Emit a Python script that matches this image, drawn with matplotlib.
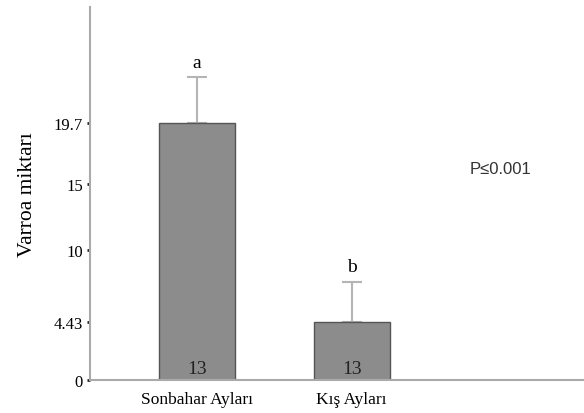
import numpy as np
import matplotlib.pyplot as plt

plt.rcParams["font.family"] = "Liberation Serif"

groups = ["Sonbahar Ayları", "Kış Ayları"]
means = [19.7, 4.43]
errors = [3.5, 3.1]
n_labels = ["13", "13"]
letters = ["a", "b"]
tick_vals = [0, 4.43, 10, 15, 19.7]
tick_labels = ["0", "4.43", "10", "15", "19.7"]

fig = plt.figure(figsize=(5.84, 4.14), dpi=100)
ax = fig.add_axes([90 / 584, 1 - 381 / 414, 494 / 584, 373 / 414])

x = np.arange(len(groups))
ax.bar(x, means, width=0.49, color="#8c8c8c", edgecolor="#555555", linewidth=1.0, zorder=2)
ax.errorbar(x, means, yerr=[np.zeros(len(errors)), errors], fmt="none",
            ecolor="#b5b5b5", elinewidth=1.5, capsize=7, capthick=1.5, zorder=1)

for xi, m, e, lt, n in zip(x, means, errors, letters, n_labels):
    ax.text(xi, m + e + 1.15, lt, ha="center", va="center", fontsize=14)
    ax.text(xi, 0.25, n, ha="center", va="bottom", fontsize=14, color="#222222")

ax.text(1.76, 16.2, "P≤0.001", fontsize=12, color="#333333", va="center",
        family="Liberation Sans")

ax.set_xlim(-0.69, 2.5)
ax.set_ylim(0, 28.6)
ax.set_xticks(x)
ax.set_xticklabels(groups, fontsize=12.5)
ax.set_yticks(tick_vals)
ax.set_yticklabels(tick_labels, fontsize=12)
ax.set_ylabel("Varroa miktarı", fontsize=15.5, labelpad=12)

for s in ["top", "right"]:
    ax.spines[s].set_visible(False)
for s in ["left", "bottom"]:
    ax.spines[s].set_color("#aaaaaa")
    ax.spines[s].set_linewidth(1.5)
ax.tick_params(axis="y", length=2, width=2, color="#222222", pad=3)
ax.tick_params(axis="x", length=0, pad=8)

plt.savefig("out.png", dpi=100)
